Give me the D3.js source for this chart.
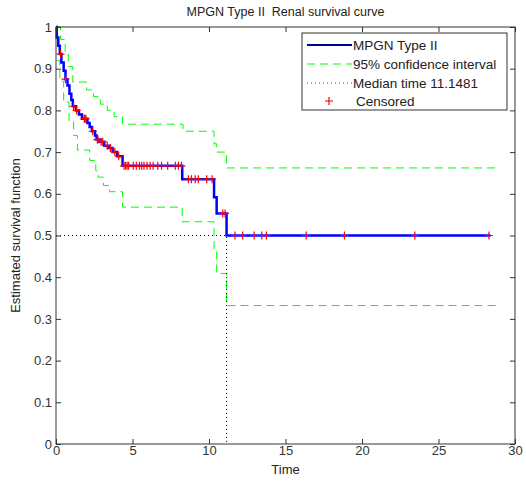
<!DOCTYPE html>
<html>
<head>
<meta charset="utf-8">
<script src="https://cdn.jsdelivr.net/npm/d3@7"></script>
<style>
  body { margin: 0; background: #fff; }
  text { font-family: "Liberation Sans", Arial, sans-serif; }
</style>
</head>
<body>
<div id="container"></div>
<script>
// Kaplan-Meier step curve: time of each drop and survival after it
const eventTimes = [0, 0.05, 0.15, 0.25, 0.35, 0.5, 0.62, 0.75, 0.88, 1.0, 1.1, 1.3, 1.5, 1.7,
  2.05, 2.2, 2.35, 2.55, 2.65, 2.85, 3.15, 3.45, 3.7, 4.0, 4.35, 8.25, 10.33, 10.5, 11.148];
const survival = [1, 0.975, 0.955, 0.935, 0.915, 0.895, 0.875, 0.86, 0.84, 0.825, 0.81, 0.8, 0.79, 0.78,
  0.77, 0.76, 0.75, 0.74, 0.73, 0.725, 0.715, 0.71, 0.7, 0.69, 0.667, 0.635, 0.592, 0.553, 0.5];
const lastTime = 28.4;

// 95% confidence bounds
const upperTimes = [0, 0.3, 0.6, 0.8, 1.1, 2.0, 2.45, 2.9, 3.35, 3.8, 4.35, 8.3, 10.33, 10.5, 11.148];
const upperValues = [1, 0.97, 0.94, 0.905, 0.868, 0.849, 0.833, 0.815, 0.8, 0.785, 0.767, 0.75, 0.72, 0.7, 0.662];
const lowerTimes = [0.05, 0.25, 0.5, 0.85, 1.15, 1.4, 2.2, 2.6, 2.75, 3.1, 3.5, 4.35, 8.25, 10.33, 10.5, 11.148];
const lowerValues = [0.92, 0.87, 0.82, 0.775, 0.74, 0.705, 0.68, 0.655, 0.64, 0.62, 0.605, 0.568, 0.533, 0.461, 0.409, 0.332];
const boundsEnd = 28.8;

// censored observations
const censoredTimes = [0.3, 0.62, 1.15, 1.35, 1.85, 1.9, 1.95, 2.4, 2.7, 2.75, 2.95, 3.05, 3.35, 3.55,
  3.85, 4.1, 4.45, 4.55, 4.65, 4.75, 5.05, 5.25, 5.45, 5.6, 5.75, 5.95, 6.15, 6.35, 6.65, 6.9, 7.3,
  7.8, 8.0, 8.2, 8.65, 8.85, 9.1, 9.3, 9.85, 10.2, 10.9, 11.05, 11.7, 12.2, 12.95, 13.45, 13.75,
  16.35, 18.85, 23.45, 28.3];

const medianTime = 11.1481;
const legendLabels = ['MPGN Type II', '95% confidence interval', 'Median time 11.1481', 'Censored'];

const width = 526;
const height = 482;
const margin = { top: 27, right: 11, bottom: 38, left: 56 };
const w = width - margin.left - margin.right;
const h = height - margin.top - margin.bottom;

const svg = d3.select('#container')
  .append('svg')
  .attr('width', width)
  .attr('height', height);

const x = d3.scaleLinear().domain([0, 30]).range([0, w]);
const y = d3.scaleLinear().domain([0, 1]).range([h, 0]);

const g = svg.append('g')
  .attr('transform', `translate(${margin.left},${margin.top})`);

const step = d3.line()
  .x(d => x(d[0]))
  .y(d => y(d[1]))
  .curve(d3.curveStepAfter);

const toPoints = (ts, vs, end) => {
  const pts = ts.map((t, i) => [t, vs[i]]);
  pts.push([end, vs[vs.length - 1]]);
  return pts;
};

const survAt = t => survival[d3.bisectRight(eventTimes, t) - 1];

// confidence bounds
[[upperTimes, upperValues], [lowerTimes, lowerValues]].forEach(([ts, vs]) => {
  g.append('path')
    .attr('d', step(toPoints(ts, vs, boundsEnd)))
    .attr('fill', 'none')
    .attr('stroke', '#00ff00')
    .attr('stroke-width', 1)
    .attr('stroke-dasharray', '8,5');
});

// median lines
g.append('path')
  .attr('d', `M${x(0)},${y(0.5)}H${x(medianTime)}V${y(0)}`)
  .attr('fill', 'none')
  .attr('stroke', '#000')
  .attr('stroke-width', 1)
  .attr('stroke-dasharray', '1,3');

// survival curve
g.append('path')
  .attr('d', step(toPoints(eventTimes, survival, lastTime)))
  .attr('fill', 'none')
  .attr('stroke', '#0000ff')
  .attr('stroke-width', 2.5);

// censored marks
const ms = 4;
g.selectAll('.cens')
  .data(censoredTimes)
  .enter()
  .append('path')
  .attr('class', 'cens')
  .attr('d', t => {
    const cx = x(t), cy = y(survAt(t));
    return `M${cx - ms},${cy}H${cx + ms}M${cx},${cy - ms}V${cy + ms}`;
  })
  .attr('stroke', '#ff0000')
  .attr('stroke-width', 1.2);

// axes with inward ticks
const xAxis = g.append('g')
  .attr('transform', `translate(0,${h})`)
  .call(d3.axisBottom(x).ticks(6).tickSizeInner(-5).tickSizeOuter(0).tickPadding(2));
const yAxis = g.append('g')
  .call(d3.axisLeft(y).ticks(10).tickSizeInner(-5).tickSizeOuter(0).tickPadding(4)
    .tickFormat(d => d3.format('~g')(d)));
const xTop = g.append('g')
  .call(d3.axisTop(x).ticks(6).tickSizeInner(-5).tickSizeOuter(0).tickFormat(''));
const yRight = g.append('g')
  .attr('transform', `translate(${w},0)`)
  .call(d3.axisRight(y).ticks(10).tickSizeInner(-5).tickSizeOuter(0).tickFormat(''));

[xAxis, yAxis, xTop, yRight].forEach(a => {
  a.select('.domain').remove();
  a.selectAll('line').attr('stroke', '#333');
  a.selectAll('text').attr('font-size', '13px').attr('fill', '#333')
    .style('font-family', '"Liberation Sans", Arial, sans-serif');
});

g.append('rect')
  .attr('width', w)
  .attr('height', h)
  .attr('fill', 'none')
  .attr('stroke', '#333')
  .attr('stroke-width', 1);

// labels
svg.append('text')
  .attr('x', margin.left + w / 2)
  .attr('y', 16)
  .attr('text-anchor', 'middle')
  .attr('font-size', '12.5px')
  .attr('fill', '#222')
  .attr('xml:space', 'preserve')
  .text('MPGN Type II  Renal survival curve');

svg.append('text')
  .attr('x', margin.left + w / 2)
  .attr('y', 474)
  .attr('text-anchor', 'middle')
  .attr('font-size', '13px')
  .attr('fill', '#222')
  .text('Time');

svg.append('text')
  .attr('transform', `translate(20,${margin.top + h / 2}) rotate(-90)`)
  .attr('text-anchor', 'middle')
  .attr('font-size', '13px')
  .attr('fill', '#222')
  .text('Estimated survival function');

// legend
const leg = svg.append('g').attr('transform', 'translate(302,33)');
leg.append('rect')
  .attr('width', 205)
  .attr('height', 77)
  .attr('fill', '#fff')
  .attr('stroke', '#333');

const rowY = [12, 31, 50, 68];
const legStyles = [
  { stroke: '#00008b', width: 2, dash: null },
  { stroke: '#00ff00', width: 1, dash: '8,5' },
  { stroke: '#555', width: 1, dash: '1,3' }
];
legStyles.forEach((s, i) => {
  leg.append('line')
    .attr('x1', 5).attr('x2', 50)
    .attr('y1', rowY[i]).attr('y2', rowY[i])
    .attr('stroke', s.stroke)
    .attr('stroke-width', s.width)
    .attr('stroke-dasharray', s.dash);
});
leg.append('path')
  .attr('d', `M${27 - ms},${rowY[3]}H${27 + ms}M27,${rowY[3] - ms}V${rowY[3] + ms}`)
  .attr('stroke', '#ff0000')
  .attr('stroke-width', 1.2);

leg.selectAll('.lbl')
  .data(legendLabels)
  .enter()
  .append('text')
  .attr('x', (d, i) => i === 3 ? 54 : 51)
  .attr('y', (d, i) => rowY[i] + 5)
  .attr('font-size', '13.5px')
  .attr('fill', '#222')
  .text(d => d);
</script>
</body>
</html>
